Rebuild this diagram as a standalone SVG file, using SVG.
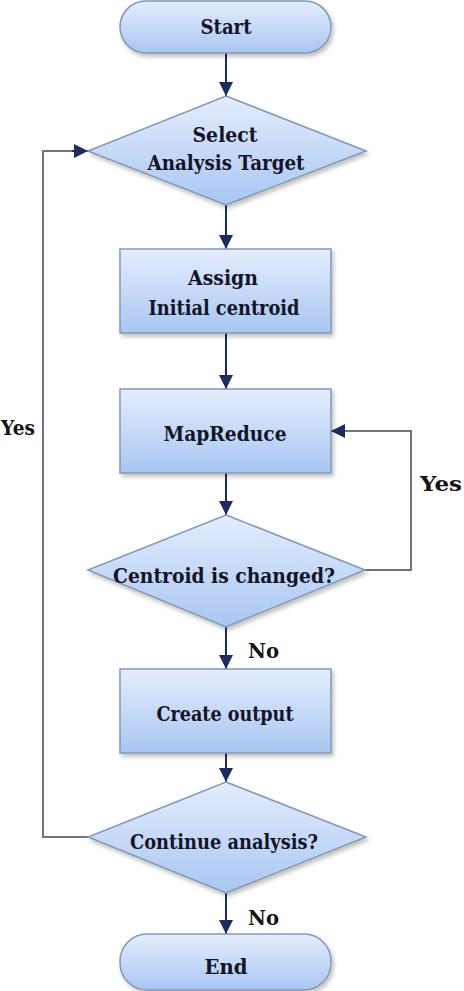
<svg xmlns="http://www.w3.org/2000/svg" width="464" height="991" viewBox="0 0 464 991">
<defs>
<linearGradient id="g" x1="0" y1="0" x2="0" y2="1">
<stop offset="0" stop-color="#e4edfc"/>
<stop offset="1" stop-color="#a9c6f2"/>
</linearGradient>
<filter id="sh" x="-10%" y="-10%" width="125%" height="130%">
<feGaussianBlur in="SourceAlpha" stdDeviation="2"/>
<feOffset dx="2" dy="3" result="b"/>
<feComponentTransfer><feFuncA type="linear" slope="0.25"/></feComponentTransfer>
<feMerge><feMergeNode/><feMergeNode in="SourceGraphic"/></feMerge>
</filter>
<marker id="ah" markerUnits="userSpaceOnUse" markerWidth="14" markerHeight="14" refX="14" refY="7" orient="auto">
<path d="M0,0 L14,7 L0,14 Z" fill="#1c2d5c"/>
</marker>
</defs>
<style>
.shape{fill:url(#g);stroke:#8298b6;stroke-width:1.5;filter:url(#sh)}
.t{font-family:"DejaVu Serif","Liberation Serif",serif;font-weight:bold;font-size:20px;fill:#141428;text-anchor:middle}
.lbl{font-family:"DejaVu Serif","Liberation Serif",serif;font-weight:bold;font-size:20px;fill:#141414}
.c{fill:none;stroke:#1c2d5c;stroke-width:2}
.loop{fill:none;stroke:#6f7480;stroke-width:2}
</style>
<rect width="464" height="991" fill="#ffffff"/>
<g id="connectors">
<line class="c" x1="226" y1="53" x2="226" y2="96" marker-end="url(#ah)"/>
<line class="c" x1="226" y1="205" x2="226" y2="249" marker-end="url(#ah)"/>
<line class="c" x1="226" y1="333" x2="226" y2="389" marker-end="url(#ah)"/>
<line class="c" x1="226" y1="473" x2="226" y2="515" marker-end="url(#ah)"/>
<line class="c" x1="226" y1="627" x2="226" y2="669" marker-end="url(#ah)"/>
<line class="c" x1="226" y1="753" x2="226" y2="782" marker-end="url(#ah)"/>
<line class="c" x1="226" y1="893" x2="226" y2="934" marker-end="url(#ah)"/>
<polyline class="loop" points="365,570 411,570 411,431 345,431"/>
<line class="c" x1="345" y1="431" x2="331" y2="431" marker-end="url(#ah)"/>
<polyline class="loop" points="88,837 43,837 43,151 74,151"/>
<line class="c" x1="72" y1="151" x2="88" y2="151" marker-end="url(#ah)"/>
<text class="lbl" x="420" y="491" textLength="42" lengthAdjust="spacingAndGlyphs">Yes</text>
<text class="lbl" x="1" y="435" textLength="34" lengthAdjust="spacingAndGlyphs">Yes</text>
<text class="lbl" x="248" y="658" textLength="31" lengthAdjust="spacingAndGlyphs">No</text>
<text class="lbl" x="248" y="925" textLength="31" lengthAdjust="spacingAndGlyphs">No</text>
</g>
<g id="start">
<rect class="shape" x="120" y="1" width="211" height="52" rx="26"/>
<text class="t" x="226" y="34" textLength="51" lengthAdjust="spacingAndGlyphs">Start</text>
</g>
<g id="select">
<polygon class="shape" points="226,96 366,151 226,205 88,151"/>
<text class="t" x="225" y="142" textLength="65" lengthAdjust="spacingAndGlyphs">Select</text>
<text class="t" x="226" y="170" textLength="157" lengthAdjust="spacingAndGlyphs">Analysis Target</text>
</g>
<g id="assign">
<rect class="shape" x="120" y="249" width="211" height="84"/>
<text class="t" x="223" y="285" textLength="70" lengthAdjust="spacingAndGlyphs">Assign</text>
<text class="t" x="224" y="315" textLength="151" lengthAdjust="spacingAndGlyphs">Initial centroid</text>
</g>
<g id="mapreduce">
<rect class="shape" x="120" y="389" width="211" height="84"/>
<text class="t" x="225" y="441" textLength="123" lengthAdjust="spacingAndGlyphs">MapReduce</text>
</g>
<g id="changed">
<polygon class="shape" points="226,515 365,570 226,627 88,570"/>
<text class="t" x="224" y="583" textLength="222" lengthAdjust="spacingAndGlyphs">Centroid  is changed?</text>
</g>
<g id="output">
<rect class="shape" x="120" y="669" width="211" height="84"/>
<text class="t" x="225" y="721" textLength="137" lengthAdjust="spacingAndGlyphs">Create output</text>
</g>
<g id="continue">
<polygon class="shape" points="226,782 366,837 226,893 88,837"/>
<text class="t" x="224" y="849" textLength="188" lengthAdjust="spacingAndGlyphs">Continue analysis?</text>
</g>
<g id="end">
<rect class="shape" x="120" y="934" width="211" height="56" rx="27"/>
<text class="t" x="226" y="974" textLength="43" lengthAdjust="spacingAndGlyphs">End</text>
</g>
</svg>
